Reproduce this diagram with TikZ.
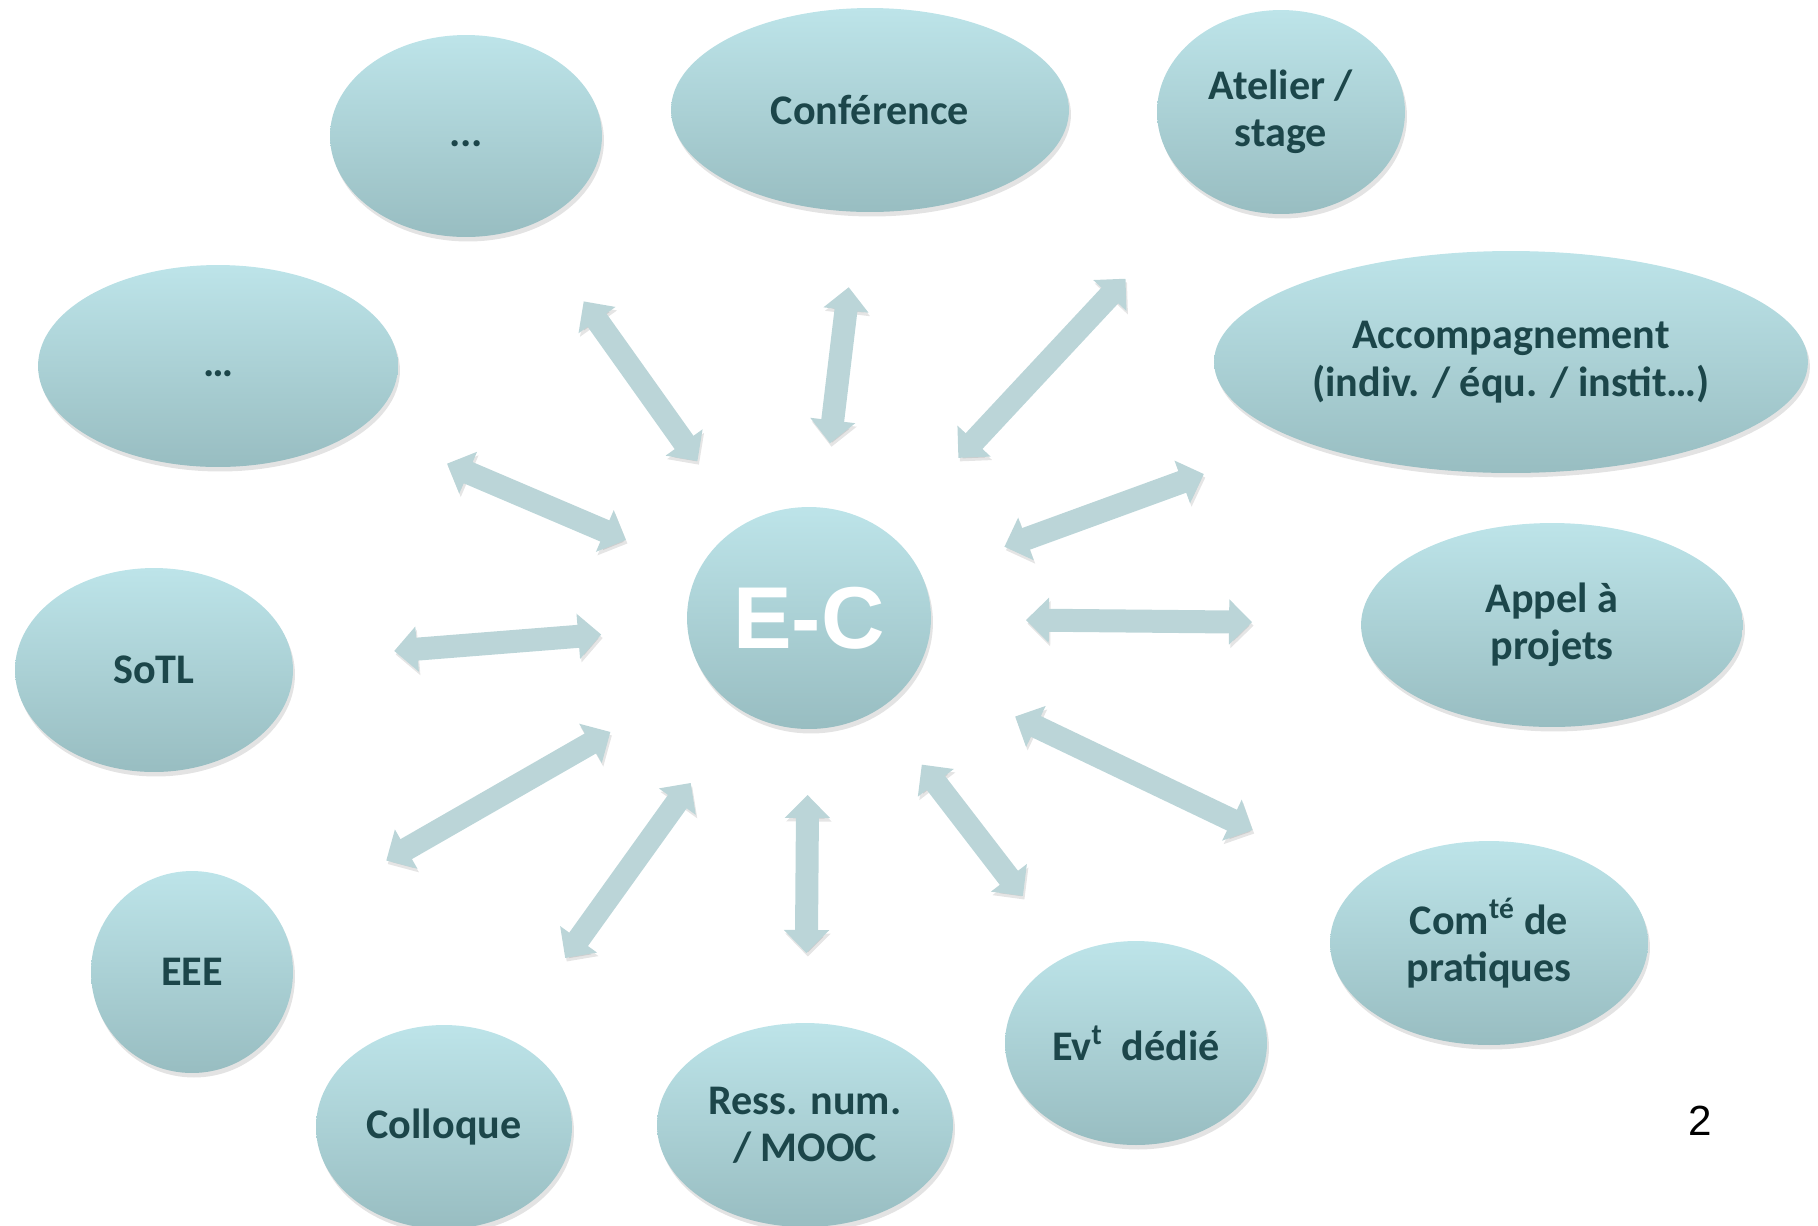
\documentclass[tikz,border=0pt]{standalone}
\usepackage{fontspec}
\setmainfont{Carlito}
\newfontfamily\arialfont{Liberation Sans}
\usetikzlibrary{calc,shapes.geometric,arrows.meta,shadows}
\definecolor{bubtop}{RGB}{189,228,233}
\definecolor{bubbot}{RGB}{152,189,193}
\definecolor{ink}{RGB}{28,70,74}
\definecolor{arrfill}{RGB}{187,213,216}
\tikzset{
	bubble/.style={ellipse, draw=none, inner sep=0pt, align=center, text=ink,
		top color=bubtop, bottom color=bubbot,
		font=\fontsize{24}{27}\selectfont\bfseries,
		drop shadow={shadow xshift=0.04cm, shadow yshift=-0.09cm, opacity=0.22}},
	dots/.style={bubble, text height=0.4cm, text depth=0pt},
	link/.style={line width=0.46cm, draw=arrfill,
		arrows={Triangle[width=0.88cm,length=0.46cm]-Triangle[width=0.88cm,length=0.46cm]},
		preaction={draw=black, opacity=0.10, transform canvas={shift={(0.03cm,-0.07cm)}}}}
}

\begin{document}
\begin{tikzpicture}[x=0.02cm, y=-0.02cm]
		%%%%% START %%%%%
		\useasboundingbox (0, 0) rectangle (1818, 1225);
		
		\node[dots, minimum width=5.44cm, minimum height=4.04cm] (dotsa) at (466, 136) {...};
		\node[bubble, minimum width=7.96cm, minimum height=4.08cm] (conf) at (870, 110) {Conférence};
		\node[bubble, minimum width=4.96cm, minimum height=4.08cm] (atel) at (1281, 112) {Atelier /\\stage};
		\node[dots, minimum width=7.20cm, minimum height=4.04cm] (dotsb) at (218, 366) {…};
		\node[bubble, minimum width=11.88cm, minimum height=4.44cm] (accomp) at (1511, 362) {Accompagnement\\(indiv. / équ. / instit…)};
		\node[bubble, minimum width=5.56cm, minimum height=4.08cm] (sotl) at (154, 670) {SoTL};
		\node[bubble, minimum width=7.64cm, minimum height=4.08cm] (appel) at (1552, 625) {Appel à\\projets};
		\node[bubble, minimum width=4.04cm, minimum height=4.04cm] (eee) at (192, 972) {EEE};
		\node[bubble, minimum width=6.36cm, minimum height=4.08cm] (comte) at (1489, 943) {Com\textsuperscript{té} de\\pratiques};
		\node[bubble, minimum width=5.24cm, minimum height=4.08cm] (evt) at (1136, 1043) {Ev\textsuperscript{t}\ \ dédié};
		\node[bubble, minimum width=5.12cm, minimum height=4.08cm] (coll) at (444, 1127) {Colloque};
		\node[bubble, minimum width=5.92cm, minimum height=4.08cm] (ress) at (805, 1125) {Ress. num.\\/ MOOC};
		
		\node[bubble, minimum width=4.88cm, minimum height=4.44cm, text=white,
			font=\arialfont\fontsize{50}{50}\selectfont\bfseries] (ec) at (809, 618) {E-C};
		
		\draw[link] ($(ec.center)!3.85cm!(dotsa.center)$) -- ($(dotsa.center)!4.06cm!(ec.center)$);
		\draw[link] ($(ec.center)!3.52cm!(conf.center)$) -- ($(conf.center)!3.57cm!(ec.center)$);
		\draw[link] ($(ec.center)!4.38cm!(atel.center)$) -- ($(atel.center)!4.56cm!(ec.center)$);
		\draw[link] ($(ec.center)!3.98cm!(dotsb.center)$) -- ($(dotsb.center)!4.98cm!(ec.center)$);
		\draw[link] ($(ec.center)!4.16cm!(accomp.center)$) -- ($(accomp.center)!6.54cm!(ec.center)$);
		\draw[link] ($(ec.center)!4.17cm!(sotl.center)$) -- ($(sotl.center)!4.82cm!(ec.center)$);
		\draw[link] ($(ec.center)!4.34cm!(appel.center)$) -- ($(appel.center)!6.00cm!(ec.center)$);
		\draw[link] ($(ec.center)!4.58cm!(eee.center)$) -- ($(eee.center)!4.48cm!(ec.center)$);
		\draw[link] ($(ec.center)!4.57cm!(comte.center)$) -- ($(comte.center)!5.24cm!(ec.center)$);
		\draw[link] ($(ec.center)!4.06cm!(coll.center)$) -- ($(coll.center)!4.16cm!(ec.center)$);
		\draw[link] ($(ec.center)!3.54cm!(ress.center)$) -- ($(ress.center)!3.44cm!(ec.center)$);
		\draw[link] ($(ec.center)!3.70cm!(evt.center)$) -- ($(evt.center)!3.71cm!(ec.center)$);
		
		\node[font=\arialfont\fontsize{24}{24}\selectfont] (pagenum) at (1700, 1121) {2};
		
		%%%%% END %%%%%
	\end{tikzpicture}
\end{document}
